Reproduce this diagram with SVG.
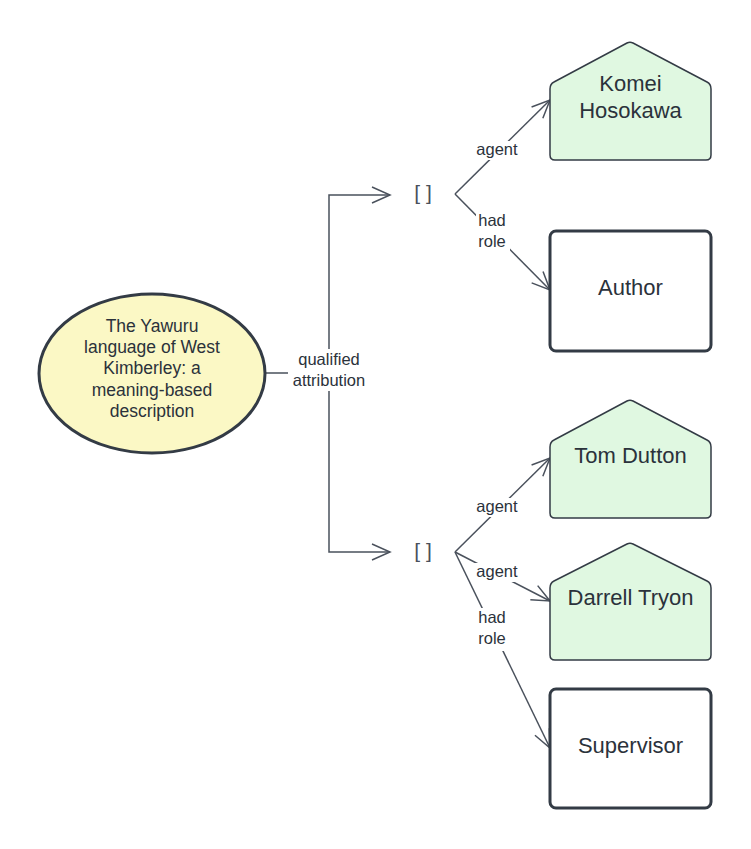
<svg xmlns="http://www.w3.org/2000/svg" width="751" height="849" viewBox="0 0 751 849">
<style>
.edge{fill:none;stroke:#4a515c;stroke-width:1.5}
.lbl{font-family:"Liberation Sans",Arial,sans-serif;font-size:16.5px;fill:#2b323b;text-anchor:middle}
.bg{fill:#ffffff}
.agent{fill:#e0f8e1;stroke:#333b45;stroke-width:1.5}
.role{fill:#ffffff;stroke:#333b45;stroke-width:3}
.ntxt{font-family:"Liberation Sans",Arial,sans-serif;font-size:22px;fill:#2b323b;text-anchor:middle}
.btxt{font-family:"Liberation Sans",Arial,sans-serif;font-size:21px;fill:#4a515c;text-anchor:middle}
.etxt{font-family:"Liberation Sans",Arial,sans-serif;font-size:17.5px;fill:#2b323b;text-anchor:middle}
</style>
<defs>
<marker id="arr" markerUnits="userSpaceOnUse" markerWidth="24" markerHeight="24" refX="20" refY="10" orient="auto" viewBox="0 0 24 20">
<path d="M2,2 L20,10 L2,18" fill="none" stroke="#4a515c" stroke-width="1.5"/>
</marker>
</defs>
<rect width="751" height="849" fill="#ffffff"/>
<g id="connectors">
<path class="edge" d="M265,373 H329 V195 H390" marker-end="url(#arr)"/>
<path class="edge" d="M329,373 V552 H390" marker-end="url(#arr)"/>
<path class="edge" d="M455,194 L550,100" marker-end="url(#arr)"/>
<path class="edge" d="M455,194 L550,290" marker-end="url(#arr)"/>
<path class="edge" d="M455,552 L550,458" marker-end="url(#arr)"/>
<path class="edge" d="M455,552 L550,601" marker-end="url(#arr)"/>
<path class="edge" d="M455,552 L550,748" marker-end="url(#arr)"/>
<rect class="bg" x="288" y="349" width="82" height="42"/>
<text class="lbl" x="329" y="365">qualified</text>
<text class="lbl" x="329" y="386">attribution</text>
<rect class="bg" x="472" y="141" width="50" height="19"/>
<text class="lbl" x="497" y="155">agent</text>
<rect class="bg" x="476" y="211" width="34" height="40"/>
<text class="lbl" x="492" y="226">had</text>
<text class="lbl" x="492" y="247">role</text>
<rect class="bg" x="472" y="498" width="50" height="19"/>
<text class="lbl" x="497" y="512">agent</text>
<rect class="bg" x="472" y="563" width="50" height="19"/>
<text class="lbl" x="497" y="577">agent</text>
<rect class="bg" x="476" y="608" width="34" height="43"/>
<text class="lbl" x="492" y="623">had</text>
<text class="lbl" x="492" y="644">role</text>
</g>
<g id="work">
<ellipse cx="152" cy="373.5" rx="113" ry="79.5" fill="#fbf8c5" stroke="#333b45" stroke-width="3"/>
<text class="etxt" x="152" y="332">The Yawuru</text>
<text class="etxt" x="152" y="353">language of West</text>
<text class="etxt" x="152" y="374">Kimberley: a</text>
<text class="etxt" x="152" y="396">meaning-based</text>
<text class="etxt" x="152" y="417">description</text>
</g>
<g id="attr1">
<text class="btxt" x="423" y="200">[ ]</text>
</g>
<g id="attr2">
<text class="btxt" x="423" y="558">[ ]</text>
</g>
<g id="komei">
<path class="agent" d="M627,43 Q630,41.5 633,43 L707,82 Q711,84 711,89 L711,155 Q711,160 706,160 L555,160 Q550,160 550,155 L550,89 Q550,84 554,82 Z"/>
<text class="ntxt" x="630.5" y="91">Komei</text>
<text class="ntxt" x="630.5" y="118">Hosokawa</text>
</g>
<g id="author">
<rect class="role" x="550" y="231" width="161" height="120" rx="6"/>
<text class="ntxt" x="630.5" y="295">Author</text>
</g>
<g id="tom">
<path class="agent" d="M627,401 Q630,399.5 633,401 L707,440 Q711,442 711,447 L711,513 Q711,518 706,518 L555,518 Q550,518 550,513 L550,447 Q550,442 554,440 Z"/>
<text class="ntxt" x="630.5" y="463">Tom Dutton</text>
</g>
<g id="darrell">
<path class="agent" d="M627,544 Q630,542.5 633,544 L707,581 Q711,583 711,588 L711,655 Q711,660 706,660 L555,660 Q550,660 550,655 L550,588 Q550,583 554,581 Z"/>
<text class="ntxt" x="630.5" y="605">Darrell Tryon</text>
</g>
<g id="supervisor">
<rect class="role" x="550" y="689" width="161" height="119" rx="6"/>
<text class="ntxt" x="630.5" y="753">Supervisor</text>
</g>
</svg>
